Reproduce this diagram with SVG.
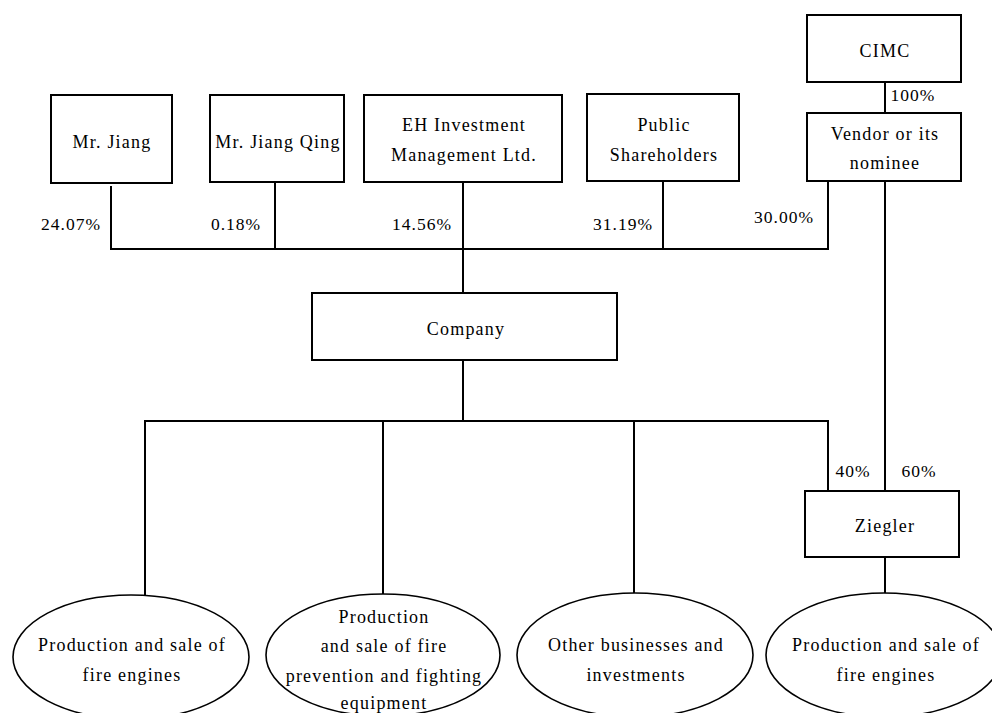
<svg xmlns="http://www.w3.org/2000/svg" width="992" height="713" viewBox="0 0 992 713">
<style>
.box{fill:#fff;stroke:#000;stroke-width:2}
.ell{fill:#fff;stroke:#000;stroke-width:1.6}
.ln{fill:none;stroke:#000;stroke-width:2}
text{font-family:"Liberation Serif","Times New Roman",serif;font-size:18px;letter-spacing:1.2px;fill:#000;text-anchor:middle}
.pct{font-size:17.5px;letter-spacing:1px}
</style>
<rect width="992" height="713" fill="#fff"/>
<g id="connectors">
<path class="ln" d="M111,186V249H828V181"/>
<path class="ln" d="M275,182V249"/>
<path class="ln" d="M463,182V293"/>
<path class="ln" d="M663,181V249"/>
<path class="ln" d="M885,82V113"/>
<path class="ln" d="M885,181V491"/>
<path class="ln" d="M463,360V421"/>
<path class="ln" d="M145,595V421H828V491"/>
<path class="ln" d="M383,421V594"/>
<path class="ln" d="M634,421V593"/>
<path class="ln" d="M885,557V593"/>
<text class="pct" x="71" y="230">24.07%</text>
<text class="pct" x="236" y="230">0.18%</text>
<text class="pct" x="422" y="230">14.56%</text>
<text class="pct" x="623" y="230">31.19%</text>
<text class="pct" x="784" y="223">30.00%</text>
<text class="pct" x="913" y="101">100%</text>
<text class="pct" x="853" y="477">40%</text>
<text class="pct" x="919" y="477">60%</text>
</g>
<g id="mr-jiang"><rect class="box" x="51" y="95" width="121" height="88"/><text x="112" y="148">Mr. Jiang</text></g>
<g id="mr-jiang-qing"><rect class="box" x="210" y="95" width="134" height="87"/><text x="278" y="148">Mr. Jiang Qing</text></g>
<g id="eh"><rect class="box" x="364" y="95" width="198" height="87"/><text x="464" y="131">EH Investment</text><text x="464" y="161">Management Ltd.</text></g>
<g id="public"><rect class="box" x="587" y="94" width="152" height="87"/><text x="664" y="131">Public</text><text x="664" y="161">Shareholders</text></g>
<g id="cimc"><rect class="box" x="807" y="15" width="154" height="67"/><text x="885" y="57">CIMC</text></g>
<g id="vendor"><rect class="box" x="807" y="113" width="154" height="68"/><text x="885" y="140">Vendor or its</text><text x="885" y="169">nominee</text></g>
<g id="company"><rect class="box" x="312" y="293" width="305" height="67"/><text x="466" y="335">Company</text></g>
<g id="ziegler"><rect class="box" x="805" y="491" width="154" height="66"/><text x="885" y="532">Ziegler</text></g>
<g id="fire-engines"><ellipse class="ell" cx="131" cy="657" rx="118" ry="62"/><text x="132" y="651">Production and sale of</text><text x="132" y="681">fire engines</text></g>
<g id="fire-prevention"><ellipse class="ell" cx="383" cy="655" rx="117" ry="61"/><text x="384" y="623">Production</text><text x="384" y="652">and sale of fire</text><text x="384" y="682">prevention and fighting</text><text x="384" y="709">equipment</text></g>
<g id="other"><ellipse class="ell" cx="635" cy="655" rx="118" ry="62"/><text x="636" y="651">Other businesses and</text><text x="636" y="681">investments</text></g>
<g id="ziegler-fire"><ellipse class="ell" cx="884" cy="655" rx="118" ry="62"/><text x="886" y="651">Production and sale of</text><text x="886" y="681">fire engines</text></g>
</svg>
